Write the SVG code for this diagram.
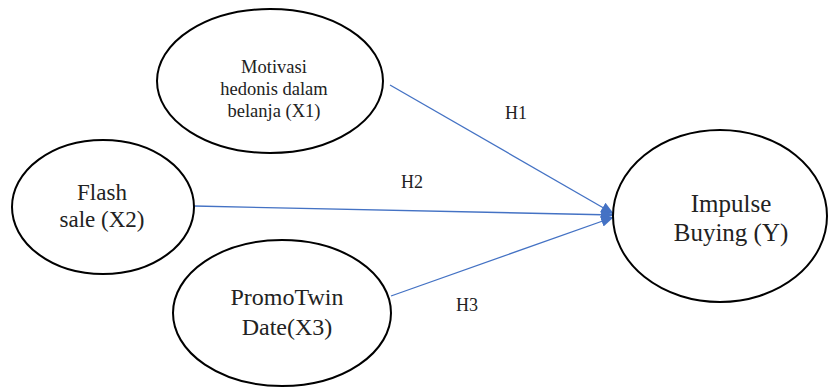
<svg xmlns="http://www.w3.org/2000/svg" width="830" height="389" viewBox="0 0 830 389">
<defs>
<style>
.node ellipse{fill:#fff;stroke:#000;stroke-width:2}
.t{font-family:"Liberation Serif","Times New Roman",serif;fill:#222;text-anchor:middle}
.edge{stroke:#4472c4;stroke-width:1.3;fill:none;marker-end:url(#ah)}
.lbl{font-family:"Liberation Serif","Times New Roman",serif;font-size:18px;fill:#222}
</style>
<marker id="ah" viewBox="0 0 10 10" refX="10" refY="5" markerWidth="13" markerHeight="11" markerUnits="userSpaceOnUse" orient="auto" preserveAspectRatio="none">
<path d="M0,0 L10,5 L0,10 z" fill="#4472c4"/>
</marker>
</defs>
<rect width="830" height="389" fill="#fff"/>
<g id="connectors">
<line class="edge" x1="390" y1="85" x2="614" y2="214"/>
<line class="edge" x1="194" y1="206" x2="614" y2="215"/>
<line class="edge" x1="391" y1="296" x2="614" y2="217"/>
<text class="lbl" x="505" y="119">H1</text>
<text class="lbl" x="401" y="188">H2</text>
<text class="lbl" x="456" y="311">H3</text>
</g>
<g id="x1" class="node">
<ellipse cx="270" cy="81" rx="113" ry="72"/>
<text class="t" font-size="18.5" x="274" y="73">Motivasi</text>
<text class="t" font-size="18.5" x="274" y="95">hedonis dalam</text>
<text class="t" font-size="18.5" x="274" y="117">belanja (X1)</text>
</g>
<g id="x2" class="node">
<ellipse cx="103" cy="207" rx="91" ry="67"/>
<text class="t" font-size="23" x="102" y="200">Flash</text>
<text class="t" font-size="23" x="102" y="227">sale (X2)</text>
</g>
<g id="x3" class="node">
<ellipse cx="282" cy="313" rx="109" ry="73"/>
<text class="t" font-size="24" x="287" y="305">PromoTwin</text>
<text class="t" font-size="24" x="287" y="335">Date(X3)</text>
</g>
<g id="y" class="node">
<ellipse cx="720" cy="216" rx="107" ry="86"/>
<text class="t" font-size="25" x="731" y="212">Impulse</text>
<text class="t" font-size="25" x="731" y="241">Buying (Y)</text>
</g>
</svg>
